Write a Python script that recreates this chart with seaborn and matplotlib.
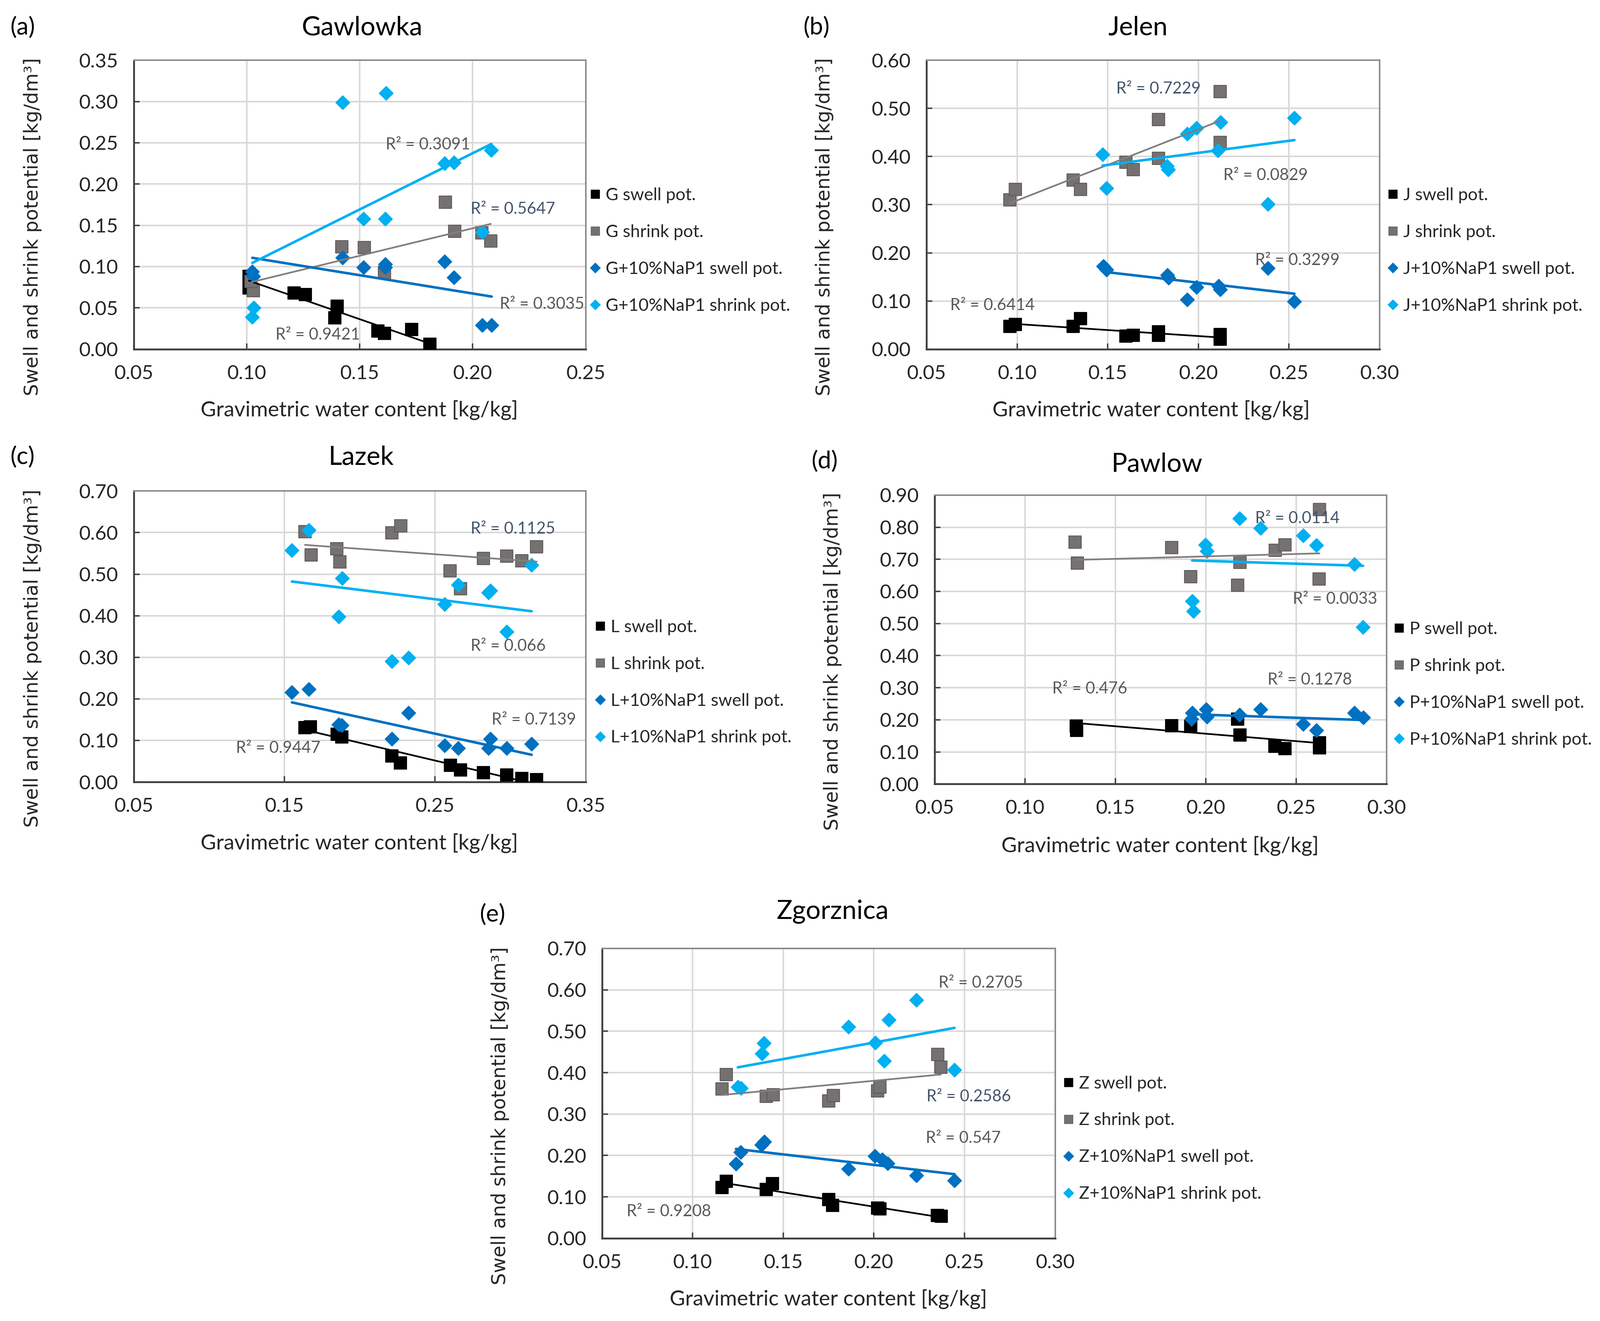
import numpy as np
import matplotlib
matplotlib.use('Agg')
import matplotlib.pyplot as plt
import seaborn as sns
from matplotlib.lines import Line2D
from matplotlib.ticker import FormatStrFormatter, FixedLocator

sns.set_theme(style='white')
plt.rcParams['font.family'] = ['Lato', 'DejaVu Sans']

# ---------------- data ----------------
# (a) Gawlowka
G_swell_x = [0.101, 0.101, 0.121, 0.126, 0.140, 0.139, 0.158, 0.161, 0.173, 0.181]
G_swell_y = [0.088, 0.074, 0.068, 0.066, 0.052, 0.038, 0.022, 0.019, 0.024, 0.006]
G_shrink_x = [0.103, 0.102, 0.142, 0.152, 0.161, 0.188, 0.192, 0.204, 0.208]
G_shrink_y = [0.071, 0.082, 0.124, 0.123, 0.093, 0.178, 0.143, 0.141, 0.131]
G_nap_swell_x = [0.1025, 0.1030, 0.1424, 0.1517, 0.1613, 0.1613, 0.1876, 0.1917, 0.2043, 0.2084]
G_nap_swell_y = [0.094, 0.088, 0.111, 0.099, 0.103, 0.099, 0.106, 0.087, 0.029, 0.029]
G_nap_shrink_x = [0.1031, 0.1025, 0.1424, 0.1616, 0.1517, 0.1613, 0.1876, 0.1917, 0.2082, 0.2043]
G_nap_shrink_y = [0.050, 0.039, 0.299, 0.310, 0.158, 0.158, 0.225, 0.226, 0.241, 0.142]
G_r2 = ['R² = 0.9421', 'R² = 0.5647', 'R² = 0.3035', 'R² = 0.3091']

# (b) Jelen
J_swell_x = [0.096, 0.099, 0.131, 0.135, 0.160, 0.164, 0.178, 0.178, 0.212, 0.212]
J_swell_y = [0.047, 0.051, 0.047, 0.063, 0.027, 0.029, 0.036, 0.029, 0.030, 0.021]
J_shrink_x = [0.096, 0.099, 0.131, 0.135, 0.160, 0.164, 0.178, 0.178, 0.212, 0.212]
J_shrink_y = [0.310, 0.332, 0.351, 0.332, 0.388, 0.373, 0.477, 0.396, 0.535, 0.429]
J_nap_swell_x = [0.1475, 0.1492, 0.1829, 0.1835, 0.1939, 0.1990, 0.2111, 0.2120, 0.2383, 0.2530]
J_nap_swell_y = [0.172, 0.165, 0.154, 0.148, 0.103, 0.129, 0.131, 0.124, 0.168, 0.099]
J_nap_shrink_x = [0.1471, 0.1492, 0.1826, 0.1833, 0.1939, 0.1990, 0.2123, 0.2107, 0.2383, 0.2530]
J_nap_shrink_y = [0.404, 0.334, 0.380, 0.373, 0.447, 0.459, 0.471, 0.412, 0.301, 0.480]
J_r2 = ['R² = 0.6414', 'R² = 0.7229', 'R² = 0.3299', 'R² = 0.0829']

# (c) Lazek
L_swell_x = [0.1637, 0.1673, 0.1850, 0.1880, 0.2214, 0.2269, 0.2601, 0.2669, 0.2820, 0.2976, 0.3076, 0.3174]
L_swell_y = [0.131, 0.133, 0.115, 0.108, 0.063, 0.046, 0.040, 0.029, 0.022, 0.017, 0.008, 0.006]
L_shrink_x = [0.1637, 0.1677, 0.1848, 0.1868, 0.2214, 0.2272, 0.2600, 0.2669, 0.2820, 0.2976, 0.3076, 0.3174]
L_shrink_y = [0.602, 0.546, 0.561, 0.529, 0.599, 0.616, 0.508, 0.465, 0.538, 0.543, 0.532, 0.566]
L_nap_swell_x = [0.1550, 0.1662, 0.1861, 0.1882, 0.2214, 0.2323, 0.2563, 0.2654, 0.2868, 0.2854, 0.2976, 0.3141]
L_nap_swell_y = [0.216, 0.223, 0.138, 0.136, 0.104, 0.166, 0.088, 0.081, 0.104, 0.081, 0.081, 0.092]
L_nap_shrink_x = [0.1550, 0.1662, 0.1885, 0.1861, 0.2214, 0.2323, 0.2563, 0.2654, 0.2854, 0.2868, 0.2976, 0.3141]
L_nap_shrink_y = [0.557, 0.606, 0.490, 0.398, 0.290, 0.299, 0.428, 0.474, 0.456, 0.460, 0.361, 0.522]
L_r2 = ['R² = 0.9447', 'R² = 0.1125', 'R² = 0.7139', 'R² = 0.066']

# (d) Pawlow
P_swell_x = [0.1282, 0.1286, 0.1811, 0.1915, 0.2175, 0.2188, 0.2381, 0.2437, 0.2628, 0.2628]
P_swell_y = [0.181, 0.167, 0.182, 0.179, 0.202, 0.153, 0.118, 0.110, 0.128, 0.113]
P_shrink_x = [0.1277, 0.1290, 0.1811, 0.1915, 0.2188, 0.2175, 0.2384, 0.2437, 0.2628, 0.2626]
P_shrink_y = [0.754, 0.688, 0.737, 0.646, 0.691, 0.619, 0.728, 0.745, 0.855, 0.639]
P_nap_swell_x = [0.1924, 0.1919, 0.2001, 0.2006, 0.2186, 0.2301, 0.2538, 0.2611, 0.2821, 0.2871]
P_nap_swell_y = [0.222, 0.202, 0.232, 0.210, 0.216, 0.233, 0.187, 0.167, 0.222, 0.207]
P_nap_shrink_x = [0.2186, 0.2301, 0.1997, 0.2006, 0.1924, 0.1930, 0.2538, 0.2611, 0.2821, 0.2869]
P_nap_shrink_y = [0.827, 0.797, 0.745, 0.726, 0.570, 0.538, 0.774, 0.744, 0.685, 0.489]
P_r2 = ['R² = 0.476', 'R² = 0.0114', 'R² = 0.1278', 'R² = 0.0033']

# (e) Zgorznica
Z_swell_x = [0.1161, 0.1186, 0.1406, 0.1441, 0.1751, 0.1772, 0.2021, 0.2034, 0.2350, 0.2372]
Z_swell_y = [0.123, 0.138, 0.118, 0.132, 0.094, 0.080, 0.073, 0.071, 0.055, 0.053]
Z_shrink_x = [0.1186, 0.1161, 0.1406, 0.1444, 0.1751, 0.1776, 0.2021, 0.2033, 0.2353, 0.2370]
Z_shrink_y = [0.395, 0.361, 0.343, 0.347, 0.332, 0.345, 0.356, 0.365, 0.444, 0.413]
Z_nap_swell_x = [0.1239, 0.1264, 0.1381, 0.1396, 0.1860, 0.2006, 0.2046, 0.2077, 0.2234, 0.2445]
Z_nap_swell_y = [0.180, 0.208, 0.226, 0.233, 0.168, 0.199, 0.190, 0.181, 0.152, 0.140]
Z_nap_shrink_x = [0.1249, 0.1268, 0.1393, 0.1383, 0.1860, 0.2008, 0.2056, 0.2083, 0.2234, 0.2445]
Z_nap_shrink_y = [0.365, 0.363, 0.471, 0.446, 0.511, 0.472, 0.428, 0.527, 0.575, 0.407]
Z_r2 = ['R² = 0.9208', 'R² = 0.2586', 'R² = 0.547', 'R² = 0.2705']

# axis tick values
G_xticks = [0.05, 0.10, 0.15, 0.20, 0.25]
G_yticks = [0.00, 0.05, 0.10, 0.15, 0.20, 0.25, 0.30, 0.35]
J_xticks = [0.05, 0.10, 0.15, 0.20, 0.25, 0.30]
J_yticks = [0.00, 0.10, 0.20, 0.30, 0.40, 0.50, 0.60]
L_xticks = [0.05, 0.15, 0.25, 0.35]
L_yticks = [0.00, 0.10, 0.20, 0.30, 0.40, 0.50, 0.60, 0.70]
P_xticks = [0.05, 0.10, 0.15, 0.20, 0.25, 0.30]
P_yticks = [0.00, 0.10, 0.20, 0.30, 0.40, 0.50, 0.60, 0.70, 0.80, 0.90]
Z_xticks = [0.05, 0.10, 0.15, 0.20, 0.25, 0.30]
Z_yticks = [0.00, 0.10, 0.20, 0.30, 0.40, 0.50, 0.60, 0.70]

site_codes = ['G', 'J', 'L', 'P', 'Z']
site_names = ['Gawlowka', 'Jelen', 'Lazek', 'Pawlow', 'Zgorznica']
panel_tags = ['(a)', '(b)', '(c)', '(d)', '(e)']
series_suffix = [' swell pot.', ' shrink pot.', '+10%NaP1 swell pot.', '+10%NaP1 shrink pot.']
x_label = 'Gravimetric water content [kg/kg]'
y_label = 'Swell and shrink potential [kg/dm³]'

data = {
    'G': [(G_swell_x, G_swell_y), (G_shrink_x, G_shrink_y), (G_nap_swell_x, G_nap_swell_y), (G_nap_shrink_x, G_nap_shrink_y)],
    'J': [(J_swell_x, J_swell_y), (J_shrink_x, J_shrink_y), (J_nap_swell_x, J_nap_swell_y), (J_nap_shrink_x, J_nap_shrink_y)],
    'L': [(L_swell_x, L_swell_y), (L_shrink_x, L_shrink_y), (L_nap_swell_x, L_nap_swell_y), (L_nap_shrink_x, L_nap_shrink_y)],
    'P': [(P_swell_x, P_swell_y), (P_shrink_x, P_shrink_y), (P_nap_swell_x, P_nap_swell_y), (P_nap_shrink_x, P_nap_shrink_y)],
    'Z': [(Z_swell_x, Z_swell_y), (Z_shrink_x, Z_shrink_y), (Z_nap_swell_x, Z_nap_swell_y), (Z_nap_shrink_x, Z_nap_shrink_y)],
}
r2_texts = {'G': G_r2, 'J': J_r2, 'L': L_r2, 'P': P_r2, 'Z': Z_r2}
ticks = {'G': (G_xticks, G_yticks), 'J': (J_xticks, J_yticks), 'L': (L_xticks, L_yticks),
         'P': (P_xticks, P_yticks), 'Z': (Z_xticks, Z_yticks)}

# ---------------- styling / layout ----------------
marker_colors = ['#000000', '#767171', '#0070C0', '#00B0F0']
edge_colors = ['#000000', '#5f5b5b', '#0070C0', '#00B0F0']
line_colors = ['#000000', '#7f7f7f', '#0070C0', '#00B0F0']
line_widths = [1.2, 1.2, 1.8, 1.8]
markers = ['s', 's', 'D', 'D']
msizes = [80, 80, 48, 48]
r2_colors = ['#595959', '#44546A', '#595959', '#595959']

W, H = 1568.0, 1294.0  # layout reference grid
layout = {
    'G': dict(rect=(131, 59, 574, 342),
              title=(355, 27), tag=(10, 27), ylab=(32, 222), xlab=(352, 402), leg=(578, 245.5),
              r2pos=[(0.314, 0.049), (0.745, 0.484), (0.810, 0.155), (0.557, 0.707)]),
    'J': dict(rect=(908, 59, 1352, 342),
              title=(1115, 27), tag=(787, 27), ylab=(808, 222), xlab=(1128, 402), leg=(1360, 245.5),
              r2pos=[(0.052, 0.152), (0.419, 0.901), (0.725, 0.307), (0.655, 0.601)]),
    'L': dict(rect=(131, 481, 574, 766),
              title=(354, 448), tag=(10, 448), ylab=(32, 645), xlab=(352, 826), leg=(583, 668.5),
              r2pos=[(0.226, 0.116), (0.745, 0.870), (0.792, 0.214), (0.745, 0.467)]),
    'P': dict(rect=(916, 485, 1359, 768),
              title=(1134, 455), tag=(795, 452), ylab=(816, 648), xlab=(1137, 829), leg=(1366, 670.5),
              r2pos=[(0.260, 0.329), (0.709, 0.919), (0.736, 0.360), (0.792, 0.640)]),
    'Z': dict(rect=(590, 929, 1034, 1213),
              title=(816, 893), tag=(470, 896), ylab=(490, 1093), xlab=(812, 1273), leg=(1042, 1115.5),
              r2pos=[(0.054, 0.092), (0.716, 0.489), (0.714, 0.345), (0.743, 0.880)]),
}

fig = plt.figure(figsize=(4124 / 263, 3404 / 263), dpi=263)
fig.patch.set_facecolor('white')

for code, name, tag in zip(site_codes, site_names, panel_tags):
    lay = layout[code]
    l, t, r, b = lay['rect']
    ax = fig.add_axes([l / W, 1 - b / H, (r - l) / W, (b - t) / H])
    ax.set_facecolor('white')
    series = data[code]
    for i, (xs, ys) in enumerate(series):
        sns.scatterplot(x=xs, y=ys, marker=markers[i], s=msizes[i], color=marker_colors[i],
                        edgecolor=edge_colors[i], linewidth=0.6, ax=ax, legend=False, zorder=3 + i)
    for i, (xs, ys) in enumerate(series):
        sns.regplot(x=np.array(xs), y=np.array(ys), scatter=False, ci=None, truncate=True,
                    color=line_colors[i], line_kws=dict(lw=line_widths[i], zorder=8 + i), ax=ax)
    for i, txt in enumerate(r2_texts[code]):
        px, py = lay['r2pos'][i]
        ax.text(px, py, txt, transform=ax.transAxes, ha='left', va='center',
                fontsize=11.5, color=r2_colors[i], zorder=20)

    xt, yt = ticks[code]
    ax.set_xlim(xt[0], xt[-1])
    ax.set_ylim(yt[0], yt[-1])
    ax.xaxis.set_major_locator(FixedLocator(xt))
    ax.yaxis.set_major_locator(FixedLocator(yt))
    ax.xaxis.set_major_formatter(FormatStrFormatter('%.2f'))
    ax.yaxis.set_major_formatter(FormatStrFormatter('%.2f'))
    ax.grid(True, color='#d9d9d9', lw=1.1, zorder=0)
    ax.set_axisbelow(True)
    ax.set_xlabel('')
    ax.set_ylabel('')
    for side in ['top', 'right']:
        ax.spines[side].set_color('#8c8c8c')
        ax.spines[side].set_linewidth(1.1)
    for side in ['left', 'bottom']:
        ax.spines[side].set_color('#404040')
        ax.spines[side].set_linewidth(1.3)
    ax.tick_params(axis='both', direction='in', length=4, width=1.0, color='#404040',
                   labelsize=14, labelcolor='#262626', pad=11,
                   bottom=True, left=True)

    handles = [Line2D([0], [0], marker=markers[i], linestyle='none', markersize=(6.2 if i < 2 else 5.0),
                      markerfacecolor=marker_colors[i], markeredgecolor=edge_colors[i], markeredgewidth=0.4)
               for i in range(4)]
    labels = [code + s for s in series_suffix]
    lx, ly = lay['leg']
    ax.legend(handles, labels, loc='center left', bbox_to_anchor=(lx / W, 1 - ly / H),
              bbox_transform=fig.transFigure, frameon=False, fontsize=12.3, labelspacing=1.2,
              handlelength=0.6, handletextpad=0.3, borderpad=0, borderaxespad=0,
              labelcolor='#262626')

    tx, ty = lay['title']
    fig.text(tx / W, 1 - ty / H, name, ha='center', va='center', fontsize=18.5, color='#000000')
    gx, gy = lay['tag']
    fig.text(gx / W, 1 - gy / H, tag, ha='left', va='center', fontsize=17, color='#000000')
    yx, yy = lay['ylab']
    fig.text(yx / W, 1 - yy / H, y_label, ha='center', va='center', rotation=90,
             fontsize=13.5, color='#262626', family=['DejaVu Sans'])
    xx, xy = lay['xlab']
    fig.text(xx / W, 1 - xy / H, x_label, ha='center', va='center', fontsize=15, color='#262626')

fig.savefig('out.png', dpi=263, facecolor='white')
